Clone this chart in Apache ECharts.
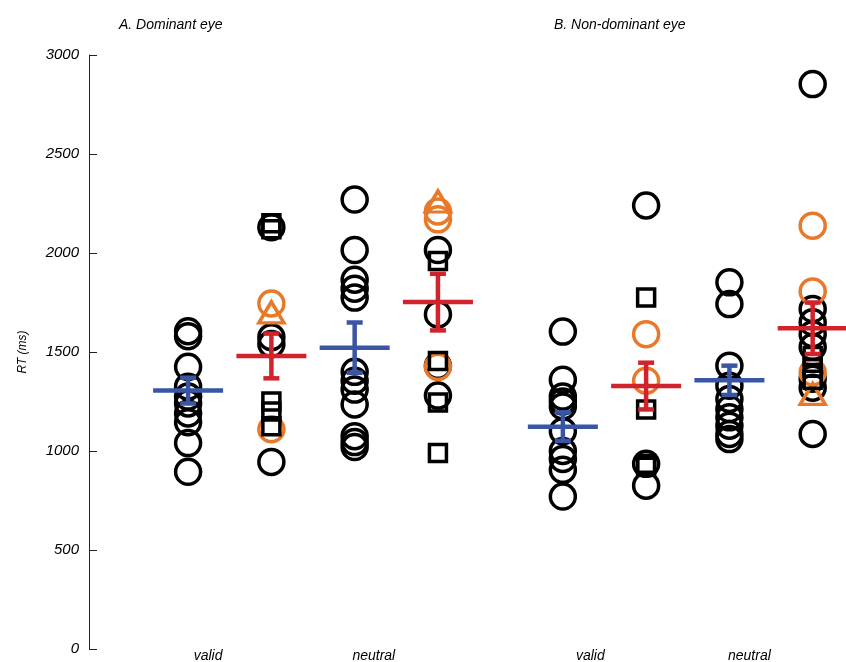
<!DOCTYPE html>
<html>
<head>
<meta charset="utf-8">
<script src="https://cdn.jsdelivr.net/npm/echarts@6/dist/echarts.min.js"></script>
<style>
  html, body { margin: 0; padding: 0; background: #fff; }
  #chart { width: 846px; height: 662px; }
</style>
</head>
<body>
<div id="chart"></div>
<script>
// column order: A valid(blue), A valid(red), A neutral(blue), A neutral(red),
//               B valid(blue), B valid(red), B neutral(blue), B neutral(red)
const columnX = [1, 2, 3, 4, 5.5, 6.5, 7.5, 8.5];

const blackCircles = [
  [1605, 1580, 1425, 1325, 1275, 1240, 1190, 1145, 1040, 895],
  [2130, 1575, 1540, 945],
  [2270, 2015, 1865, 1820, 1775, 1400, 1355, 1310, 1235, 1075, 1045, 1020],
  [2015, 1690, 1430, 1280],
  [1603, 1360, 1275, 1250, 1225, 1100, 1000, 960, 905, 770],
  [2240, 935, 825],
  [1852, 1742, 1431, 1330, 1263, 1212, 1170, 1128, 1086, 1060],
  [2853, 1717, 1650, 1590, 1525, 1365, 1320, 1086]
];
const blackSquares = [
  [],
  [2150, 2120, 1250, 1200, 1125],
  [],
  [1960, 1455, 1245, 990],
  [],
  [1775, 1210, 935, 920],
  [],
  [1480, 1420, 1360]
];
const orangeCircles = [
  [],
  [1745, 1110],
  [],
  [2210, 2170, 1425],
  [],
  [1590, 1355],
  [],
  [2138, 1806, 1397]
];
const orangeTriangles = [
  [],
  [1700],
  [],
  [2260],
  [],
  [],
  [],
  [1288]
];
const means = [1305, 1480, 1522, 1752, 1123, 1328, 1357, 1620];
const errors = [65, 113, 127, 143, 72, 118, 74, 130];

const xLabels = ['valid', 'neutral', 'valid', 'neutral'];
const xLabelAt = [1.24, 3.23, 5.83, 7.74];
const panelTitles = ['A. Dominant eye', 'B. Non-dominant eye'];

const BLUE = '#3a55a4';
const RED = '#d0232b';
const ORANGE = '#e8792a';
const FONT = '"Liberation Sans", Arial, sans-serif';

function toPoints(cols) {
  const out = [];
  cols.forEach((vals, i) => vals.forEach(v => out.push([columnX[i], v])));
  return out;
}

function markerSeries(cols, symbol, size, color) {
  return {
    type: 'scatter',
    data: toPoints(cols),
    symbol: symbol,
    symbolSize: size,
    itemStyle: { color: 'rgba(0,0,0,0)', borderColor: color, borderWidth: 3.5, opacity: 1 },
    emphasis: { disabled: true },
    silent: true,
    z: 2
  };
}

const meanData = means.map((m, i) => [columnX[i], m, errors[i], i % 2]);

const chart = echarts.init(document.getElementById('chart'), null, { renderer: 'canvas' });

chart.setOption({
  animation: false,
  backgroundColor: '#fff',
  textStyle: { fontFamily: FONT },
  title: [
    { text: panelTitles[0], left: 114, top: 13,
      textStyle: { fontSize: 14, fontStyle: 'italic', fontWeight: 'normal', color: '#000', fontFamily: FONT } },
    { text: panelTitles[1], left: 549, top: 13,
      textStyle: { fontSize: 14, fontStyle: 'italic', fontWeight: 'normal', color: '#000', fontFamily: FONT } }
  ],
  grid: { left: 89, right: 0, top: 55, bottom: 13, containLabel: false, outerBoundsMode: 'none' },
  xAxis: {
    type: 'value',
    min: -0.19,
    max: 8.9,
    axisLine: { show: false },
    axisTick: { show: false },
    splitLine: { show: false },
    axisLabel: {
      customValues: xLabelAt,
      formatter: v => {
        const k = xLabelAt.findIndex(p => Math.abs(p - v) < 1e-6);
        return k >= 0 ? xLabels[k] : '';
      },
      margin: 0,
      fontSize: 14,
      fontStyle: 'italic',
      color: '#000',
      fontFamily: FONT
    }
  },
  yAxis: {
    type: 'value',
    min: 0,
    max: 3000,
    interval: 500,
    name: 'RT (ms)',
    nameLocation: 'middle',
    nameGap: 60,
    nameTextStyle: { fontSize: 12, fontStyle: 'italic', color: '#000', fontFamily: FONT },
    axisLine: { show: true, onZero: false, lineStyle: { color: '#222', width: 1 } },
    axisTick: { show: true, inside: true, length: 8, lineStyle: { color: '#222', width: 1 } },
    splitLine: { show: false },
    axisLabel: {
      margin: 10, fontSize: 15, fontStyle: 'italic', color: '#000', fontFamily: FONT,
      formatter: v => String(v)
    }
  },
  series: [
    markerSeries(blackCircles, 'circle', 25, '#000'),
    markerSeries(orangeCircles, 'circle', 25, ORANGE),
    markerSeries(orangeTriangles, 'triangle', [25, 21], ORANGE),
    markerSeries(blackSquares, 'rect', 17, '#000'),
    {
      type: 'custom',
      data: meanData,
      encode: { x: 0, y: 1 },
      silent: true,
      z: 5,
      renderItem: (params, api) => {
        const x = api.value(0), m = api.value(1), e = api.value(2);
        const color = api.value(3) === 0 ? BLUE : RED;
        const c = api.coord([x, m]);
        const hi = api.coord([x, m + e]);
        const lo = api.coord([x, m - e]);
        const style = { stroke: color, lineWidth: 4.5 };
        return {
          type: 'group',
          children: [
            { type: 'line', shape: { x1: c[0], y1: hi[1], x2: c[0], y2: lo[1] }, style },
            { type: 'line', shape: { x1: c[0] - 8, y1: hi[1], x2: c[0] + 8, y2: hi[1] }, style },
            { type: 'line', shape: { x1: c[0] - 8, y1: lo[1], x2: c[0] + 8, y2: lo[1] }, style },
            { type: 'line', shape: { x1: c[0] - 35, y1: c[1], x2: c[0] + 35, y2: c[1] }, style }
          ]
        };
      }
    }
  ]
});
</script>
</body>
</html>
